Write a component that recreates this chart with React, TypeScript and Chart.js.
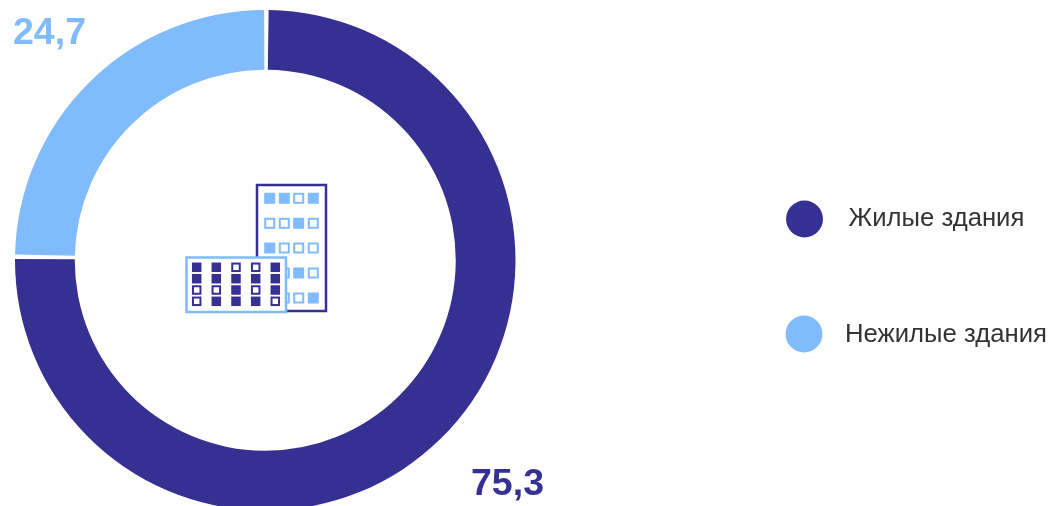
import React, { useEffect, useRef } from "react";
import { Chart, registerables } from "chart.js";

Chart.register(...registerables);

const categories = ["Жилые здания", "Нежилые здания"];
const values = [75.3, 24.7];
const valueLabels = ["75,3", "24,7"];
const colors = ["#363092", "#80BBFE"];

const FONT = '"Liberation Sans", Arial, sans-serif';
const labelPos = [{ x: 471, y: 495 }, { x: 13, y: 44 }];
const legendPos = [
  { cx: 804.5, cy: 219, tx: 848.5, ty: 219 },
  { cx: 804, cy: 334, tx: 845, ty: 335 },
];

// decorative icon: 1 = filled window, 0 = outlined
const tallWindows = [
  [1, 1, 0, 1],
  [0, 0, 1, 0],
  [1, 0, 0, 0],
  [0, 0, 1, 0],
  [0, 0, 0, 1],
];
const lowWindows = [
  [1, 1, 0, 0, 1],
  [1, 1, 1, 1, 1],
  [0, 0, 1, 0, 1],
  [0, 1, 1, 1, 0],
];

function drawGrid(
  ctx: CanvasRenderingContext2D,
  grid: number[][],
  xs: number[],
  ys: number[],
  size: number,
  color: string
) {
  grid.forEach((row, r) =>
    row.forEach((w, c) => {
      const x = xs[c] - size / 2;
      const y = ys[r] - size / 2;
      if (w === 1) {
        ctx.fillStyle = color;
        ctx.fillRect(x, y, size, size);
      } else {
        ctx.strokeStyle = color;
        ctx.lineWidth = 2;
        ctx.strokeRect(x + 1, y + 1, size - 2, size - 2);
      }
    })
  );
}

const overlay = {
  id: "overlay",
  afterDraw(chart: Chart) {
    const ctx = chart.ctx;
    ctx.save();
    // icon
    ctx.fillStyle = "#fff";
    ctx.strokeStyle = colors[0];
    ctx.lineWidth = 2.5;
    ctx.fillRect(257, 185, 69, 126);
    ctx.strokeRect(257, 185, 69, 126);
    drawGrid(ctx, tallWindows, [269.7, 284.3, 298.7, 313.3], [198.3, 223.3, 248, 273, 298], 11, colors[1]);
    ctx.fillStyle = "#fff";
    ctx.strokeStyle = colors[1];
    ctx.lineWidth = 2.5;
    ctx.fillRect(186.5, 257.5, 99.5, 54.5);
    ctx.strokeRect(186.5, 257.5, 99.5, 54.5);
    drawGrid(ctx, lowWindows, [196.7, 216.3, 236, 255.7, 275.3], [267.3, 278.7, 290, 301.3], 9.5, colors[0]);
    // value labels
    ctx.textAlign = "left";
    ctx.textBaseline = "alphabetic";
    ctx.font = `bold 37.5px ${FONT}`;
    valueLabels.forEach((t, i) => {
      ctx.fillStyle = colors[i];
      ctx.fillText(t, labelPos[i].x, labelPos[i].y);
    });
    // legend
    ctx.font = `25.7px ${FONT}`;
    ctx.textBaseline = "middle";
    categories.forEach((t, i) => {
      const p = legendPos[i];
      ctx.fillStyle = colors[i];
      ctx.beginPath();
      ctx.arc(p.cx, p.cy, 18.5, 0, Math.PI * 2);
      ctx.fill();
      ctx.fillStyle = "#333333";
      ctx.fillText(t, p.tx, p.ty);
    });
    ctx.restore();
  },
};

export default function App() {
  const ref = useRef<HTMLCanvasElement>(null);
  useEffect(() => {
    document.body.style.margin = "0";
    const chart = new Chart(ref.current!, {
      type: "doughnut",
      data: {
        labels: categories,
        datasets: [
          {
            data: values,
            backgroundColor: colors,
            borderWidth: 0,
            spacing: 2.5,
          },
        ],
      },
      options: {
        animation: false,
        responsive: false,
        cutout: "76%",
        layout: { padding: { left: 15, top: 10, right: 535.5, bottom: 9.5 } },
        plugins: { legend: { display: false }, tooltip: { enabled: false } },
      },
      plugins: [overlay],
    });
    return () => chart.destroy();
  }, []);
  return (
    <div style={{ width: 1051, height: 506, overflow: "hidden", position: "relative" }}>
      <canvas ref={ref} width={1051} height={520} style={{ display: "block" }} />
    </div>
  );
}
